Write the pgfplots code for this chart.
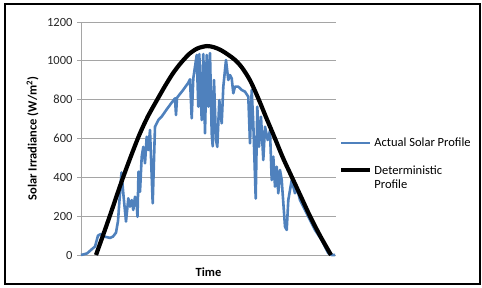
\documentclass[border=0pt]{standalone}
\usepackage{fontspec}
\setmainfont{Carlito}
\usepackage{pgfplots}
\pgfplotsset{compat=1.18}
\definecolor{xlblue}{RGB}{79,129,189}
\definecolor{gridgray}{RGB}{165,165,165}
\begin{document}
\begin{tikzpicture}
\path (0pt,0pt) rectangle (482pt,287pt);
\draw[line width=2pt] (5pt,3pt) rectangle (480pt,283pt);
\begin{axis}[
  at={(81pt,32pt)}, anchor=south west,
  scale only axis, width=255pt, height=233pt,
  xmin=81, xmax=336, ymin=0, ymax=1200,
  ytick={0,200,400,600,800,1000,1200},
  xtick=\empty,
  ymajorgrids, grid style={gridgray, line width=0.9pt},
  axis x line=bottom, axis y line=left,
  axis line style={gridgray, line width=0.9pt, -},
  tick align=outside, major tick length=4pt,
  tick style={gridgray, line width=0.9pt},
  /pgf/number format/assume math mode=true,
  /pgf/number format/1000 sep={},
  yticklabel style={font=\fontsize{12.5}{14}\selectfont, color=black!85, xshift=-1pt},
  ylabel={\textbf{Solar Irradiance (W/m\textsuperscript{2})}},
  ylabel style={at={(axis description cs:-0.19,0.5)}, anchor=center, font=\fontsize{12.5}{14}\selectfont},
  xlabel={\textbf{Time}},
  xlabel style={at={(axis description cs:0.5,-0.073)}, anchor=center, font=\fontsize{12.5}{14}\selectfont},
  legend style={at={(axis description cs:1.0,0.52)}, anchor=north west, draw=none, fill=none,
    font=\fontsize{12.5}{14}\selectfont, cells={anchor=west, align=left}, row sep=12pt},
  legend image code/.code={\draw[#1] (0pt,0pt) -- (29pt,0pt);},
  clip=false,
]
\addplot[xlblue, line width=2.6pt, line join=round] coordinates {
(81,0) (87,8) (93,35) (95,43) (98,100) (101,108) (105,94) (110,88) (113,95)
(116,115) (118,175) (121.5,425) (123.3,317) (126,172) (128.3,292) (130,249)
(131.7,283) (133.3,232) (135,300) (136.7,257) (137.5,197) (138.5,429) (140,326)
(141.7,506) (143.3,557) (145,472) (146.7,609) (148.3,541) (150,644) (152.7,266)
(155,661) (158.3,695) (162,715) (166.7,750) (171,780) (175,807) (176,721)
(177,810) (183,849) (188,885) (190,905) (191.7,704) (193.3,910) (196.7,1030)
(198.3,764) (199.3,1035) (201.7,695) (203.3,1035) (205,627) (206.7,1030)
(208.3,764) (210,1040) (211.7,626) (212.7,560) (214,901) (216,592) (217.3,557)
(219.3,798) (221.7,678) (223.3,866) (226,1004) (228.3,901) (230,927) (231.7,910)
(233.3,833) (235,867) (238.3,867) (241.7,850) (245,841) (248.3,815) (250,575)
(251.7,850) (253.3,678) (255.7,291) (257.3,764) (259,557) (261,712) (263.3,489)
(265,661) (267.7,592) (270,640) (271.7,386) (273.3,507) (275,352) (276.7,455)
(278.3,318) (280,438) (281.7,386) (285,146) (286.7,129) (288.3,283) (291.7,386)
(295,318) (296.7,352) (300,283) (305,232) (310,180) (315,129) (321.7,77)
(328.3,9) (331.7,0) (335,0)
};
\addlegendentry{Actual Solar Profile}
\addplot[black, line width=4.2pt, smooth, tension=0.5] coordinates {
(96,0) (105,130) (113,249) (120,355) (127,455) (134,550) (140,627) (148,715)
(157,798) (165,870) (173,936) (181,990) (190,1039) (198,1065) (207,1076)
(214,1070) (221,1055) (228,1032) (235,1005) (242,965) (250,900) (258,810)
(266,710) (275,600) (283,500) (292,400) (301,300) (310,200) (320,100) (331,0)
};
\addlegendentry{\begin{tabular}[t]{@{}l@{}}Deterministic\\Profile\end{tabular}}
\end{axis}
\end{tikzpicture}
\end{document}
